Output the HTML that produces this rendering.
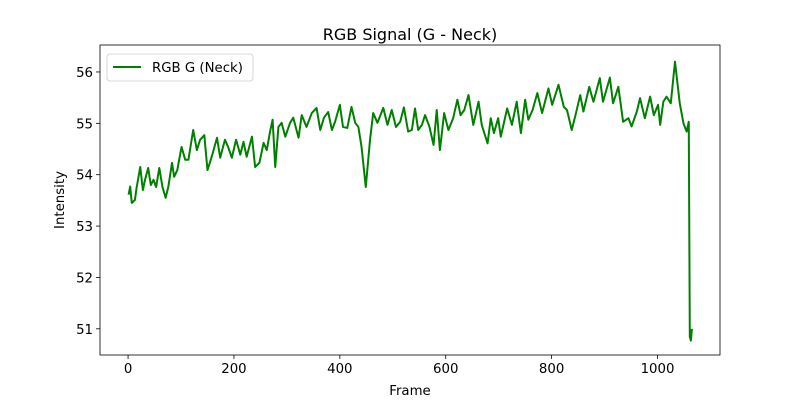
<!DOCTYPE html>
<html><head><meta charset="utf-8"><style>
body{margin:0;background:#fff;}
svg text{font-family:"DejaVu Sans","Liberation Sans",sans-serif;fill:#000;}
</style></head><body>
<svg id="chart" width="800" height="400" viewBox="0 0 800 400">
<rect width="800" height="400" fill="#fff"/>
<text x="410" y="40" font-size="16" text-anchor="middle">RGB Signal (G - Neck)</text>
<g id="ticks"></g>
<path id="line" fill="none" stroke="#008000" stroke-width="2" stroke-linejoin="round"/>
<rect x="100" y="45" width="620" height="310" fill="none" stroke="#000" stroke-width="0.8"/>
<text x="410" y="395" font-size="13.3" text-anchor="middle">Frame</text>
<text transform="translate(64,200) rotate(-90)" font-size="13.3" text-anchor="middle">Intensity</text>
<g>
<rect x="107" y="54" width="146" height="27" rx="3" fill="#fff" stroke="#ccc" stroke-width="0.8"/>
<line x1="113" y1="67" x2="141" y2="67" stroke="#008000" stroke-width="2"/>
<text x="152" y="72" font-size="13.3">RGB G (Neck)</text>
</g>
</svg>
<script>
const frames=[1,4,7,13,16,23,28,32,38,43,48,53,59,65,71,76,83,87,93,101,108,114,123,130,136,144,150,158,168,174,183,189,196,204,212,218,224,234,240,248,256,262,268,273,278,284,290,297,306,312,322,328,337,347,356,363,370,378,385,391,400,406,414,422,429,435,441,449,457,463,471,482,490,498,506,
514,521,529,536,542,548,555,561,569,577,583,589,597,605,614,622,628,635,643,652,662,668,679,685,691,699,704,716,725,734,742,750,756,764,773,782,794,801,813,823,829,838,846,854,860,871,879,891,897,910,916,926,935,945,951,961,967,976,986,993,1001,1005,1011,1017,1025,1033,1042,1049,1055,1059,1061,1063,1065];
const values=[53.61,53.77,53.45,53.51,53.74,54.15,53.70,53.90,54.13,53.80,53.90,53.76,54.13,53.76,53.55,53.76,54.23,53.96,54.09,54.54,54.29,54.29,54.87,54.48,54.68,54.77,54.09,54.35,54.72,54.33,54.68,54.54,54.33,54.68,54.39,54.64,54.35,54.74,54.15,54.23,54.62,54.48,54.83,55.07,54.15,54.93,55.01,54.74,55.01,55.11,54.72,55.16,54.93,55.20,55.30,54.87,55.11,55.22,54.87,55.03,55.36,54.93,54.91,55.32,55.01,54.93,54.54,53.76,54.68,55.20,55.01,55.30,54.97,55.26,54.93,
55.03,55.31,54.84,54.87,55.29,54.87,54.97,55.16,54.94,54.58,55.26,54.48,55.20,54.87,55.10,55.46,55.16,55.26,55.55,54.97,55.42,54.97,54.61,55.10,54.81,55.10,54.74,55.29,54.97,55.42,54.81,55.46,55.07,55.26,55.59,55.20,55.68,55.36,55.75,55.32,55.26,54.87,55.20,55.55,55.23,55.71,55.42,55.88,55.42,55.89,55.39,55.71,55.03,55.10,54.94,55.23,55.49,55.10,55.52,55.16,55.36,54.97,55.42,55.52,55.39,56.20,55.39,55.00,54.84,55.03,50.84,50.77,51.00];
const xTicks=[0,200,400,600,800,1000];
const yTicks=[51,52,53,54,55,56];
const X0=100,X1=720,Y0=355,Y1=45;
const xMin=-53,xMax=1118,yMin=50.49,yMax=56.525;
const xs=v=>X0+(v-xMin)/(xMax-xMin)*(X1-X0);
const ys=v=>Y0-(v-yMin)/(yMax-yMin)*(Y0-Y1);
const NS="http://www.w3.org/2000/svg";
const tg=document.getElementById('ticks');
xTicks.forEach(t=>{
  const l=document.createElementNS(NS,'line');
  l.setAttribute('x1',xs(t));l.setAttribute('x2',xs(t));l.setAttribute('y1',Y0);l.setAttribute('y2',Y0+4);
  l.setAttribute('stroke','#000');l.setAttribute('stroke-width','0.8');
  
  
  tg.appendChild(l);
  const tx=document.createElementNS(NS,'text');
  tx.setAttribute('x',xs(t));tx.setAttribute('y',Y0+18);tx.setAttribute('font-size','13.3');tx.setAttribute('text-anchor','middle');
  tx.textContent=t;
  
  
  tg.appendChild(tx);
});
yTicks.forEach(t=>{
  const l=document.createElementNS(NS,'line');
  l.setAttribute('x1',X0-4);l.setAttribute('x2',X0);l.setAttribute('y1',ys(t));l.setAttribute('y2',ys(t));
  l.setAttribute('stroke','#000');l.setAttribute('stroke-width','0.8');
  
  
  tg.appendChild(l);
  const tx=document.createElementNS(NS,'text');
  tx.setAttribute('x',X0-7);tx.setAttribute('y',ys(t)+5);tx.setAttribute('font-size','13.3');tx.setAttribute('text-anchor','end');
  tx.textContent=t;
  
  
  tg.appendChild(tx);
});
let d='';
frames.forEach((f,i)=>{d+=(i?'L':'M')+xs(f).toFixed(2)+','+ys(values[i]).toFixed(2);});
document.getElementById('line').setAttribute('d',d);
</script>
</body></html>
